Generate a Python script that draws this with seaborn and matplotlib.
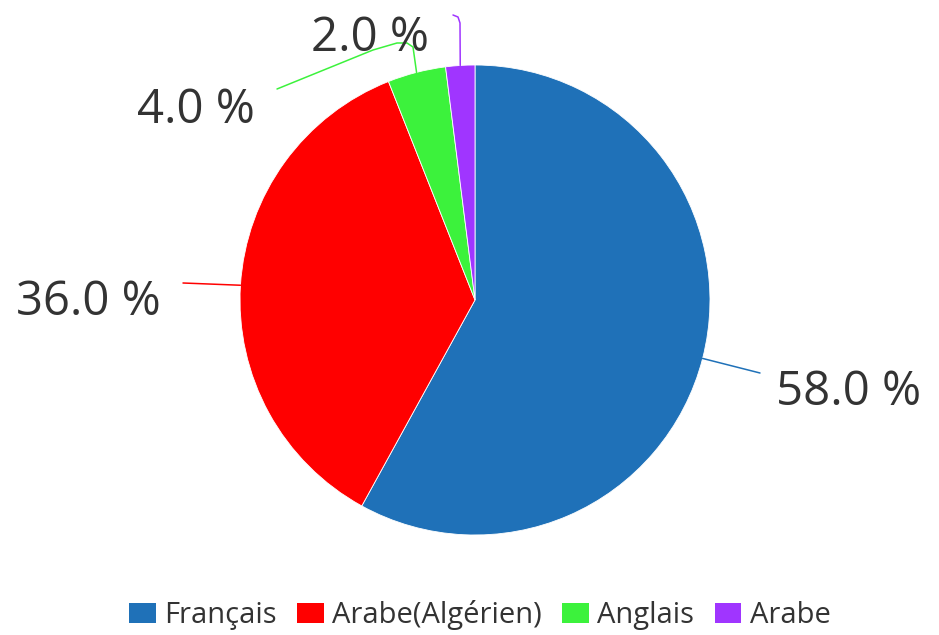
import numpy as np
import matplotlib
matplotlib.use("Agg")
import matplotlib.pyplot as plt
import seaborn as sns
from matplotlib.patches import Patch

# data
langues = ["Français", "Arabe(Algérien)", "Anglais", "Arabe"]
parts = [58.0, 36.0, 4.0, 2.0]
couleurs = ["#1F71B8", "#FF0000", "#3CF23C", "#A035FF"]

sns.set_theme(style="white")
plt.rcParams['font.family'] = ['Open Sans', 'DejaVu Sans']

W, H = 939, 635
fig = plt.figure(figsize=(W / 100, H / 100), dpi=100)
ax = fig.add_axes([0, 0, 1, 1])

cx, cy, r = 475, H - 300, 235
wedges, _ = ax.pie(parts, colors=couleurs, startangle=90, counterclock=False,
                   center=(cx, cy), radius=r, frame=True,
                   wedgeprops=dict(edgecolor='white', linewidth=0.6))
ax.set_xlim(0, W)
ax.set_ylim(0, H)
ax.set_aspect('equal')
ax.axis('off')

# label text centres (pixel coords, y from top) and leader-line bend points
label_pos = [(849, 392), (88, 302), (196, 110), (370, 38)]
leader_pts = [
    [(760, 373)],
    [(183, 283)],
    [(413, 47), (407, 43), (397, 43), (373, 50), (277, 89)],
    [(460, 23), (458, 17), (453, 15)],
]

for w, p, col, (tx, ty), pts in zip(wedges, parts, couleurs, label_pos, leader_pts):
    ang = np.deg2rad((w.theta1 + w.theta2) / 2)
    x0 = cx + r * np.cos(ang)
    y0 = cy + r * np.sin(ang)
    xs = [x0] + [q[0] for q in pts]
    ys = [y0] + [H - q[1] for q in pts]
    ax.plot(xs, ys, color=col, lw=1.1, solid_capstyle='round')
    ax.text(tx, H - ty, f"{p:.1f} %", ha='center', va='center',
            fontsize=34, color='#333333')

handles = [Patch(facecolor=c, edgecolor='none') for c in couleurs]
fig.legend(handles, langues, loc='center', bbox_to_anchor=(480 / W, 1 - 615 / H),
           ncol=4, frameon=False, fontsize=21, handlelength=0.9, handleheight=0.7,
           handletextpad=0.3, columnspacing=0.7, labelcolor='#333333',
           borderpad=0.1)

fig.savefig("out.png", dpi=100)
